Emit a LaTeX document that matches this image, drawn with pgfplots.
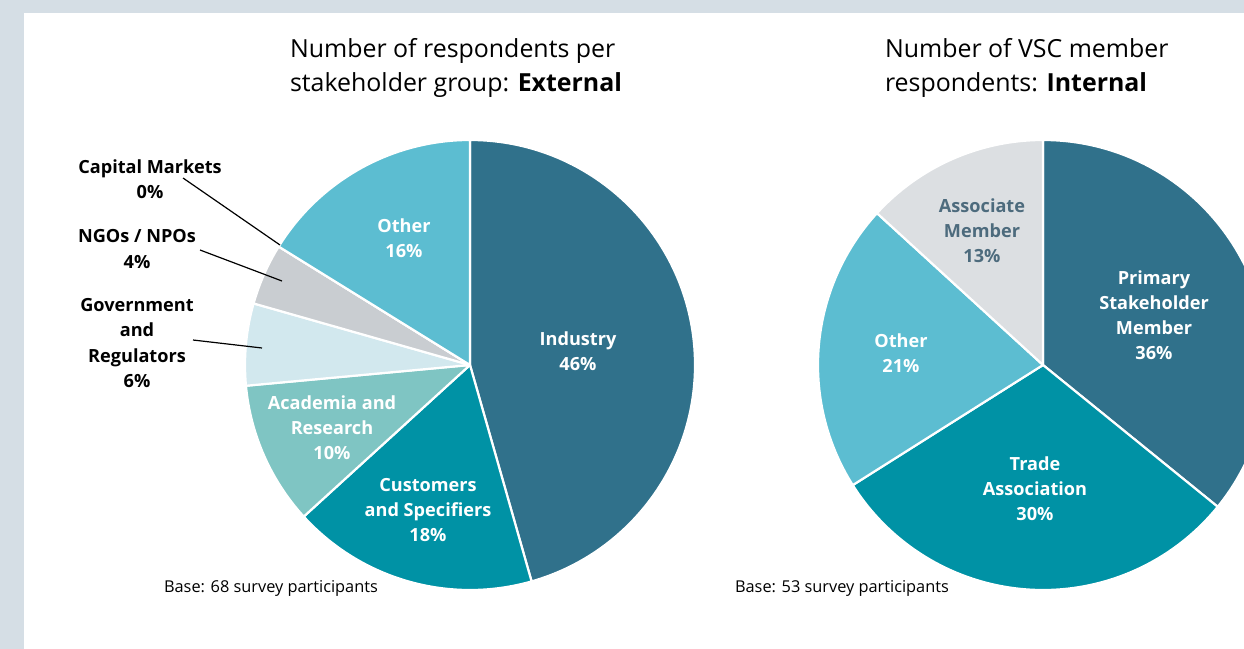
\documentclass[border=0pt]{standalone}
\usepackage{pgfplots}
\pgfplotsset{compat=1.18}
\usepackage{pgfplotstable}
\usepackage{fontspec}
\setmainfont{Open Sans}
\definecolor{bgGrey}{HTML}{D5DEE5}
\definecolor{cInd}{HTML}{30718B}
\definecolor{cCus}{HTML}{0092A5}
\definecolor{cAca}{HTML}{7FC5C3}
\definecolor{cGov}{HTML}{D2E8EE}
\definecolor{cNgo}{HTML}{C9CDD1}
\definecolor{cOth}{HTML}{5CBDD1}
\definecolor{cAss}{HTML}{DCDFE2}
\definecolor{cAssTxt}{HTML}{4D6B7D}

\pgfplotstableread{
name count col
Industry 31 cInd
Customers 12 cCus
Academia 7 cAca
Government 4 cGov
NGOs 3 cNgo
Capital 0 cNgo
Other 11 cOth
}\exttab
\pgfplotstableread{
name count col
Primary 19 cInd
Trade 16 cCus
Other 11 cOth
Associate 7 cAss
}\inttab

% #1 table, #2 cx, #3 cy, #4 total, #5 last row index
\newcommand\drawpie[5]{%
  \def\cum{0}%
  \pgfplotsforeachungrouped \i in {0,...,#5}{%
    \pgfplotstablegetelem{\i}{count}\of{#1}\let\val\pgfplotsretval
    \pgfplotstablegetelem{\i}{col}\of{#1}\let\col\pgfplotsretval
    \pgfmathsetmacro\sa{90-\cum/#4*360}%
    \pgfmathsetmacro\cum{\cum+\val}%
    \pgfmathsetmacro\ea{90-\cum/#4*360}%
    \edef\tmp{\noexpand\filldraw[fill=\col, draw=white, line width=1.1pt, line join=round] (axis cs:#2,#3) -- ++(\sa:112.5bp) arc[start angle=\sa, end angle=\ea, radius=112.5bp] -- cycle;}%
    \tmp
  }%
}

\begin{document}
\begin{tikzpicture}
\begin{axis}[
  width=622bp, height=324.5bp, scale only axis,
  xmin=0, xmax=1244, ymin=0, ymax=649, y dir=reverse,
  hide axis, clip=true,
]
\fill[bgGrey] (axis cs:0,0) rectangle (axis cs:1244,649);
\fill[white] (axis cs:24,13) rectangle (axis cs:1244,649);

\drawpie{\exttab}{470}{365}{68}{6}
\drawpie{\inttab}{1043}{365}{53}{3}

% titles
\node[anchor=west, align=left, font=\fontsize{12.5}{17.5}\selectfont] at (axis cs:283,68)
  {Number of respondents per\\stakeholder group: \textbf{External}};
\node[anchor=west, align=left, font=\fontsize{12.5}{17.5}\selectfont] at (axis cs:878,68)
  {Number of VSC member\\respondents: \textbf{Internal}};

% left pie labels
\tikzset{lab/.style={align=center, font=\bfseries\fontsize{9.1}{12.6}\selectfont}}
\node[lab, white] at (axis cs:404,238) {Other\\16\%};
\node[lab, white] at (axis cs:578,351) {Industry\\46\%};
\node[lab, white] at (axis cs:428,510) {Customers\\and Specifiers\\18\%};
\node[lab, white] at (axis cs:332,428) {Academia and\\Research\\10\%};
\node[lab, black] at (axis cs:137,343) {Government\\and\\Regulators\\6\%};
\node[lab, black] at (axis cs:137,249) {NGOs / NPOs\\4\%};
\node[lab, black] at (axis cs:150,179) {Capital Markets\\0\%};
\draw[black, line width=0.6pt] (axis cs:183,178) -- (axis cs:280,245);
\draw[black, line width=0.6pt] (axis cs:200,250) -- (axis cs:282,281);
\draw[black, line width=0.6pt] (axis cs:193,340) -- (axis cs:262,348);

% right pie labels
\node[lab, cAssTxt] at (axis cs:982,231) {Associate\\Member\\13\%};
\node[lab, white] at (axis cs:1154,315) {Primary\\Stakeholder\\Member\\36\%};
\node[lab, white] at (axis cs:901,353) {Other\\21\%};
\node[lab, white] at (axis cs:1035,489) {Trade\\Association\\30\%};

% base notes
\node[anchor=west, font=\fontsize{8.2}{9}\selectfont] at (axis cs:157,588) {Base: 68 survey participants};
\node[anchor=west, font=\fontsize{8.2}{9}\selectfont] at (axis cs:728,588) {Base: 53 survey participants};
\end{axis}
\end{tikzpicture}
\end{document}
